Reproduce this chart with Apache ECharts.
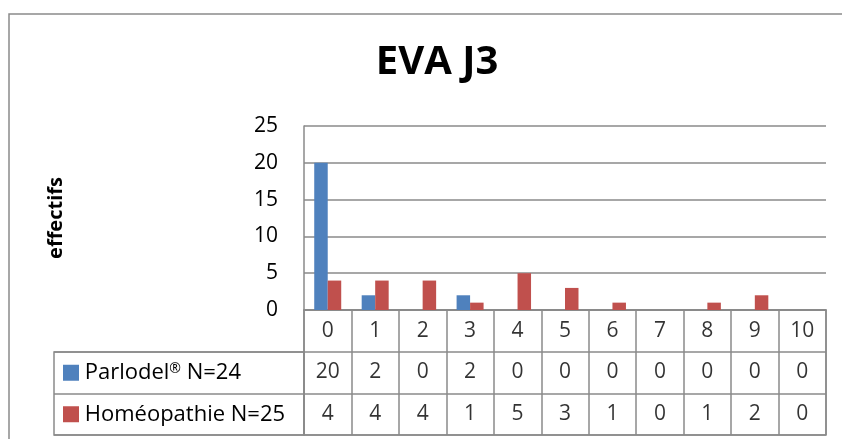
<!DOCTYPE html>
<html>
<head>
<meta charset="utf-8">
<script src="https://cdn.jsdelivr.net/npm/echarts@6/dist/echarts.min.js"></script>
<style>
html,body{margin:0;padding:0;background:#fff;}
#c{width:842px;height:439px;}
</style>
</head>
<body>
<div id="c"></div>
<script>
var categories = ['0','1','2','3','4','5','6','7','8','9','10'];
var parlodel = [20, 2, 0, 2, 0, 0, 0, 0, 0, 0, 0];
var homeo = [4, 4, 4, 1, 5, 3, 1, 0, 1, 2, 0];
var yTicks = [0, 5, 10, 15, 20, 25];
var seriesNames = ['Parlodel® N=24', 'Homéopathie N=25'];
var titleText = 'EVA J3';
var yName = 'effectifs';
var tableRows = ['cat', 'p', 'h'];

var FONT = 'Open Sans';
var GRID = '#8a8a8a';
var BLUE = '#4F81BD';
var RED = '#C0504D';

var chart = echarts.init(document.getElementById('c'), null, {renderer: 'canvas'});

function cellSeries(rowKey, vals, name) {
  return {
    type: 'scatter', name: name, xAxisIndex: 1, yAxisIndex: 1,
    symbol: 'rect', symbolSize: 1, itemStyle: {color: 'rgba(0,0,0,0)'},
    silent: true,
    data: categories.map(function (c, i) { return [c, rowKey, vals[i]]; }),
    label: {show: true, position: 'inside', color: '#000', fontFamily: FONT, fontSize: 21,
      formatter: function (p) { return String(p.data[2]); }}
  };
}

var option = {
  backgroundColor: '#fff',
  animation: false,
  title: {
    text: titleText, left: 432, top: 38, textAlign: 'center',
    textStyle: {fontFamily: FONT, fontWeight: 'bold', fontSize: 40, color: '#000'}
  },
  graphic: [{
    type: 'rect', shape: {x: 9, y: 14, width: 900, height: 500}, silent: true,
    style: {fill: 'none', stroke: '#8a8a8a', lineWidth: 1.5}
  }],
  grid: [
    {left: 304, right: 16, top: 126, bottom: 129, outerBoundsMode: 'none'},
    {left: 304, right: 16, top: 310, bottom: 4, outerBoundsMode: 'none', show: true, borderColor: GRID, borderWidth: 1.5},
    {left: 54, right: 538, top: 352, bottom: 4, outerBoundsMode: 'none', show: true, borderColor: GRID, borderWidth: 1.5}
  ],
  xAxis: [
    {type: 'category', gridIndex: 0, data: categories,
     axisLine: {show: true, lineStyle: {color: GRID, width: 1.5}},
     axisTick: {show: false}, axisLabel: {show: false}, splitLine: {show: false}},
    {type: 'category', gridIndex: 1, data: categories,
     axisLine: {show: false}, axisTick: {show: false}, axisLabel: {show: false},
     splitLine: {show: true, lineStyle: {color: GRID, width: 1.5}}},
    {type: 'value', gridIndex: 2, show: false}
  ],
  yAxis: [
    {type: 'value', gridIndex: 0, min: yTicks[0], max: yTicks[yTicks.length - 1], interval: 5,
     name: yName, nameLocation: 'middle', nameRotate: 90, nameGap: 238,
     nameTextStyle: {fontFamily: FONT, fontWeight: 'bold', fontSize: 20, color: '#000'},
     axisLine: {show: true, lineStyle: {color: GRID, width: 1.5}},
     axisTick: {show: false},
     axisLabel: {color: '#000', fontFamily: FONT, fontSize: 21, margin: 26},
     splitLine: {show: true, lineStyle: {color: GRID, width: 1.5}}},
    {type: 'category', gridIndex: 1, data: tableRows, inverse: true,
     axisLine: {show: false}, axisTick: {show: false}, axisLabel: {show: false},
     splitLine: {show: true, lineStyle: {color: GRID, width: 1.5}}},
    {type: 'category', gridIndex: 2, data: seriesNames, inverse: true,
     axisLine: {show: false}, axisTick: {show: false},
     splitLine: {show: true, lineStyle: {color: GRID, width: 1.5}},
     axisLabel: {inside: true, margin: 9, fontFamily: FONT, fontSize: 22, color: '#000',
       formatter: function (v, i) {
         var parts = v.split('®');
         var txt = parts.length > 1 ? parts[0] + '{sup|®}' + parts[1] : v;
         return (i === 0 ? '{b|}' : '{r|}') + ' ' + txt;
       },
       rich: {
         b: {width: 16, height: 16, backgroundColor: BLUE},
         r: {width: 16, height: 16, backgroundColor: RED},
         sup: {fontSize: 14, fontFamily: FONT, color: '#000', verticalAlign: 'top', padding: [0, 0, 8, 0]}
       }}}
  ],
  series: [
    {type: 'bar', name: seriesNames[0], xAxisIndex: 0, yAxisIndex: 0, data: parlodel,
     barWidth: 13.5, barGap: '0%', itemStyle: {color: BLUE}},
    {type: 'bar', name: seriesNames[1], xAxisIndex: 0, yAxisIndex: 0, data: homeo,
     barWidth: 13.5, barGap: '0%', itemStyle: {color: RED}},
    cellSeries('cat', categories, 'cats'),
    cellSeries('p', parlodel, 'p'),
    cellSeries('h', homeo, 'h')
  ]
};
chart.setOption(option);
</script>
</body>
</html>
